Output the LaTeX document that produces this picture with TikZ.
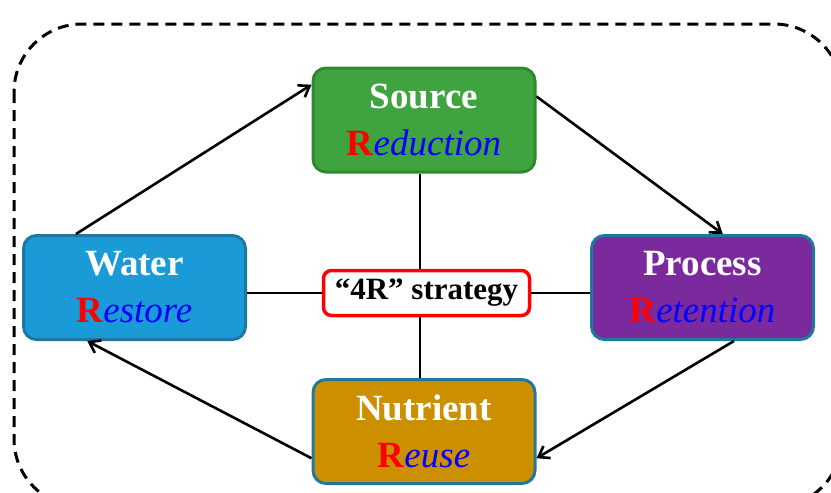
\documentclass[tikz,border=0pt]{standalone}
\usepackage{fontspec}
\setmainfont{Liberation Serif}
\usetikzlibrary{arrows.meta,calc}
\definecolor{srcgreen}{HTML}{3FA33F}
\definecolor{srcedge}{HTML}{2F8A2F}
\definecolor{watblue}{HTML}{1A9AD6}
\definecolor{proviolet}{HTML}{7B2A9E}
\definecolor{nutgold}{HTML}{CC8F00}
\definecolor{boxedge}{HTML}{1F78A0}
\newcommand{\rword}[2]{\textbf{#1}\\[1pt]{\color{red}\bfseries R}{\color{blue}\itshape #2}}
\begin{document}
\begin{tikzpicture}[x=1pt,y=-1pt,
    rbox/.style={draw=boxedge,line width=3pt,rounded corners=13pt,minimum width=222pt,
        minimum height=104pt,text=white,align=center,inner sep=0pt,
        font=\fontsize{37}{46}\selectfont},
    flow/.style={line width=2.6pt,-{Straight Barb[length=10pt,width=14pt,line width=2.6pt]}}]
    \useasboundingbox (0,0) rectangle (831,493);
    \draw[line width=3pt,dash pattern=on 11pt off 7pt,rounded corners=68pt] (14,24) rectangle (842,507);
    % the four boxes
    \node[rbox,fill=srcgreen,draw=srcedge] (src) at (424,120) {\rword{Source}{eduction}};
    \node[rbox,fill=watblue] (wat) at (134.5,287.5) {\rword{Water}{estore}};
    \node[rbox,fill=proviolet] (pro) at (702.5,287.5) {\rword{Process}{etention}};
    \node[rbox,fill=nutgold] (nut) at (424,431.5) {\rword{Nutrient}{euse}};
    % centre
    \node[draw=red,line width=3.5pt,fill=white,rounded corners=8pt,minimum width=206pt,minimum height=45pt,
        inner sep=0pt,font=\fontsize{31}{36}\selectfont\bfseries] (mid) at (426.5,293) {“4R” strategy};
    \draw[line width=2.6pt] (src.south -| 420,0) -- (mid.north -| 420,0);
    \draw[line width=2.6pt] (mid.south -| 420,0) -- (nut.north -| 420,0);
    \draw[line width=2.6pt] (mid.west) -- (mid.west -| wat.east);
    \draw[line width=2.6pt] (mid.east) -- (mid.east -| pro.west);
    % cycle
    \draw[flow] ($(wat.north west)!0.24!(wat.north east)$) -- ($(src.north west)!0.17!(src.south west)$);
    \draw[flow] ($(src.north east)!0.28!(src.south east)$) -- ($(pro.north west)!0.59!(pro.north east)$);
    \draw[flow] ($(pro.south west)!0.64!(pro.south east)$) -- ($(nut.north east)!0.75!(nut.south east)$);
    \draw[flow] ($(nut.north west)!0.75!(nut.south west)$) -- ($(wat.south west)!0.29!(wat.south east)$);
\end{tikzpicture}
\end{document}
